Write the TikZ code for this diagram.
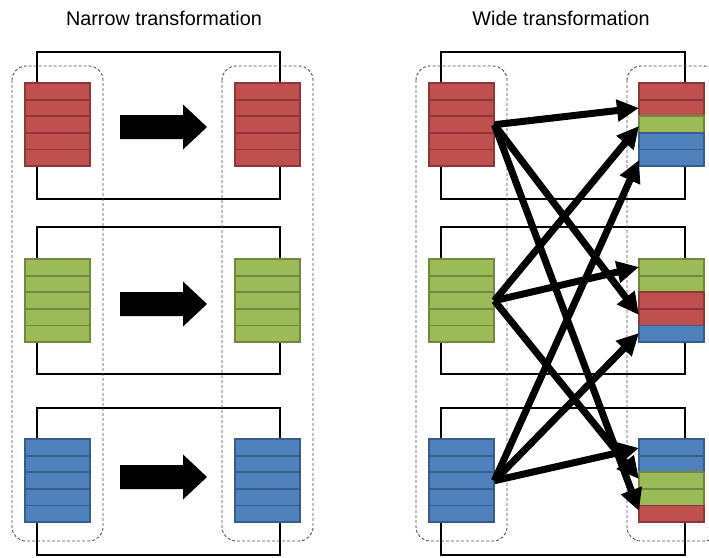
\documentclass[tikz,border=0pt]{standalone}
\usepackage{fontspec}
\setmainfont{Liberation Sans}
\usetikzlibrary{arrows.meta}

\definecolor{redfill}{HTML}{C0504D}
\definecolor{redline}{HTML}{8C3836}
\definecolor{greenfill}{HTML}{9BBB59}
\definecolor{greenline}{HTML}{71893F}
\definecolor{bluefill}{HTML}{4F81BD}
\definecolor{blueline}{HTML}{385D8A}
\definecolor{dashgray}{HTML}{505050}

\tikzset{
  title/.style={font=\fontsize{19.8}{22}\selectfont, anchor=base, inner sep=0pt},
  panel/.style={draw=black, line width=2.4pt},
  group/.style={draw=dashgray, line width=0.9pt, dash pattern=on 3pt off 2pt, rounded corners=14pt},
  cell/.style={fill=#1fill, draw=#1line, line width=1.8pt},
  blockarrow/.style={fill=black},
  shuffle/.style={draw=black, line width=7pt, -{Triangle[length=22pt,width=21pt]}},
}

% a stack of five partition rows; #1 name, #2 left x, #3 top y, #4 row colours
\newcommand\rowstack[4]{%
  \foreach \c [count=\k from 0] in {#4} {
    \draw[cell=\c] (#2, #3+\k*16.6) rectangle ++(65,16.6);
  }
  \node[inner sep=0pt, minimum width=65pt, minimum height=83pt, anchor=north west] (#1) at (#2,#3) {};
}

% a fat block arrow centred vertically on #1
\newcommand\fatarrow[1]{%
  \fill[blockarrow] (120,#1-12) -- (183,#1-12) -- (183,#1-22.5) -- (207,#1)
    -- (183,#1+22.5) -- (183,#1+12) -- (120,#1+12) -- cycle;
}

\begin{document}
\begin{tikzpicture}[x=1pt,y=-1pt]
\useasboundingbox (0,0) rectangle (709,557);
\clip (0,0) rectangle (709,557);

% headings
\node[title] (tnarrow) at (164,25.7) {Narrow transformation};
\node[title] (twide) at (561,25.7) {Wide transformation};

% one solid frame per partition pair
\foreach \t/\b in {52/199, 227/374, 408/555} {
  \draw[panel] (37,\t) rectangle (280,\b);
  \draw[panel] (441,\t) rectangle (685,\b);
}

% dashed outlines of the parent and child datasets
\draw[group] (12,66) rectangle (103,541);
\draw[group] (222,66) rectangle (313,541);
\draw[group] (416,66) rectangle (507,541);
\draw[group] (627,66) rectangle (718,541);

% narrow: partitions map one to one
\rowstack{na}{25}{83}{red,red,red,red,red}
\rowstack{nb}{25}{259}{green,green,green,green,green}
\rowstack{nc}{25}{439}{blue,blue,blue,blue,blue}
\rowstack{nx}{235}{83}{red,red,red,red,red}
\rowstack{ny}{235}{259}{green,green,green,green,green}
\rowstack{nz}{235}{439}{blue,blue,blue,blue,blue}

\fatarrow{127}
\fatarrow{304}
\fatarrow{477}

% wide: every output partition draws from every input partition
\rowstack{wa}{429}{83}{red,red,red,red,red}
\rowstack{wb}{429}{259}{green,green,green,green,green}
\rowstack{wc}{429}{439}{blue,blue,blue,blue,blue}
\rowstack{wx}{639}{83}{red,red,green,blue,blue}
\rowstack{wy}{639}{259}{green,green,red,red,blue}
\rowstack{wz}{639}{439}{blue,blue,green,green,red}

\coordinate (xr) at (639,108);
\coordinate (xg) at (639,126);
\coordinate (xb) at (639,160);
\coordinate (yg) at (639,267);
\coordinate (yr) at (639,315);
\coordinate (yb) at (639,333);
\coordinate (zb) at (639,448);
\coordinate (zg) at (639,479);
\coordinate (zr) at (639,511);

\draw[shuffle] (wa.east) -- (xr);
\draw[shuffle] (wa.east) -- (yr);
\draw[shuffle] (wa.east) -- (zr);
\draw[shuffle] (wb.east) -- (xg);
\draw[shuffle] (wb.east) -- (yg);
\draw[shuffle] (wb.east) -- (zg);
\draw[shuffle] (wc.east) -- (xb);
\draw[shuffle] (wc.east) -- (yb);
\draw[shuffle] (wc.east) -- (zb);
\end{tikzpicture}
\end{document}
